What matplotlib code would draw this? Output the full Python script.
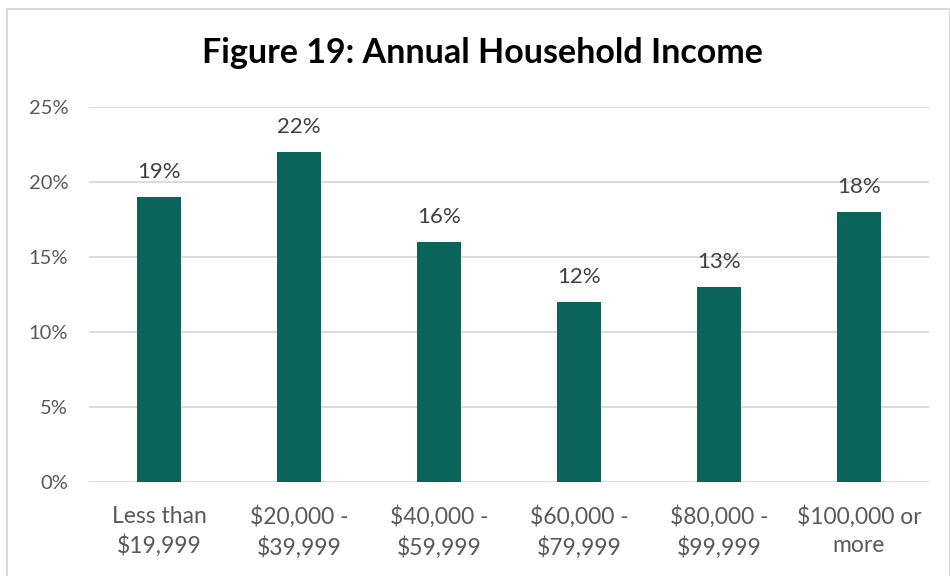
import matplotlib.pyplot as plt
from matplotlib.patches import Rectangle

categories = ["Less than\n$19,999", "$20,000 -\n$39,999", "$40,000 -\n$59,999",
              "$60,000 -\n$79,999", "$80,000 -\n$99,999", "$100,000 or\nmore"]
shares = [19, 22, 16, 12, 13, 18]
yticks = [0, 5, 10, 15, 20, 25]

plt.rcParams["font.family"] = ["Lato", "DejaVu Sans"]

fig = plt.figure(figsize=(9.5, 5.76), dpi=100)
fig.patches.append(Rectangle((0.007, -0.01), 0.993, 0.995, transform=fig.transFigure,
                             fill=False, edgecolor="#d9d9d9", linewidth=1.5))

ax = fig.add_axes([0.0937, 0.1632, 0.884, 0.651])
x = range(len(categories))
ax.bar(x, shares, width=0.315, color="#0b6459", zorder=3)

# value labels above each bar
for xi, v in zip(x, shares):
    ax.text(xi, v + 1.0, f"{v}%", ha="center", va="bottom",
            fontsize=16, color="#404040")

ax.set_xlim(-0.5, len(categories) - 0.5)
ax.set_ylim(0, 25)
ax.set_yticks(yticks)
ax.set_yticklabels([f"{t}%" for t in yticks], fontsize=14.5)
ax.set_xticks(list(x))
ax.set_xticklabels(categories, fontsize=16.5, linespacing=1.4)
ax.tick_params(axis="both", length=0, labelcolor="#595959")
ax.tick_params(axis="x", pad=17)
ax.tick_params(axis="y", pad=15)
ax.grid(axis="y", color="#d9d9d9", linewidth=1.3, zorder=0)
for s in ax.spines.values():
    s.set_visible(False)

fig.text(0.508, 1 - 63 / 576, "Figure 19: Annual Household Income", ha="center",
         va="baseline", fontsize=24.5, fontweight="bold", color="black")

fig.savefig("out.png", dpi=100)
